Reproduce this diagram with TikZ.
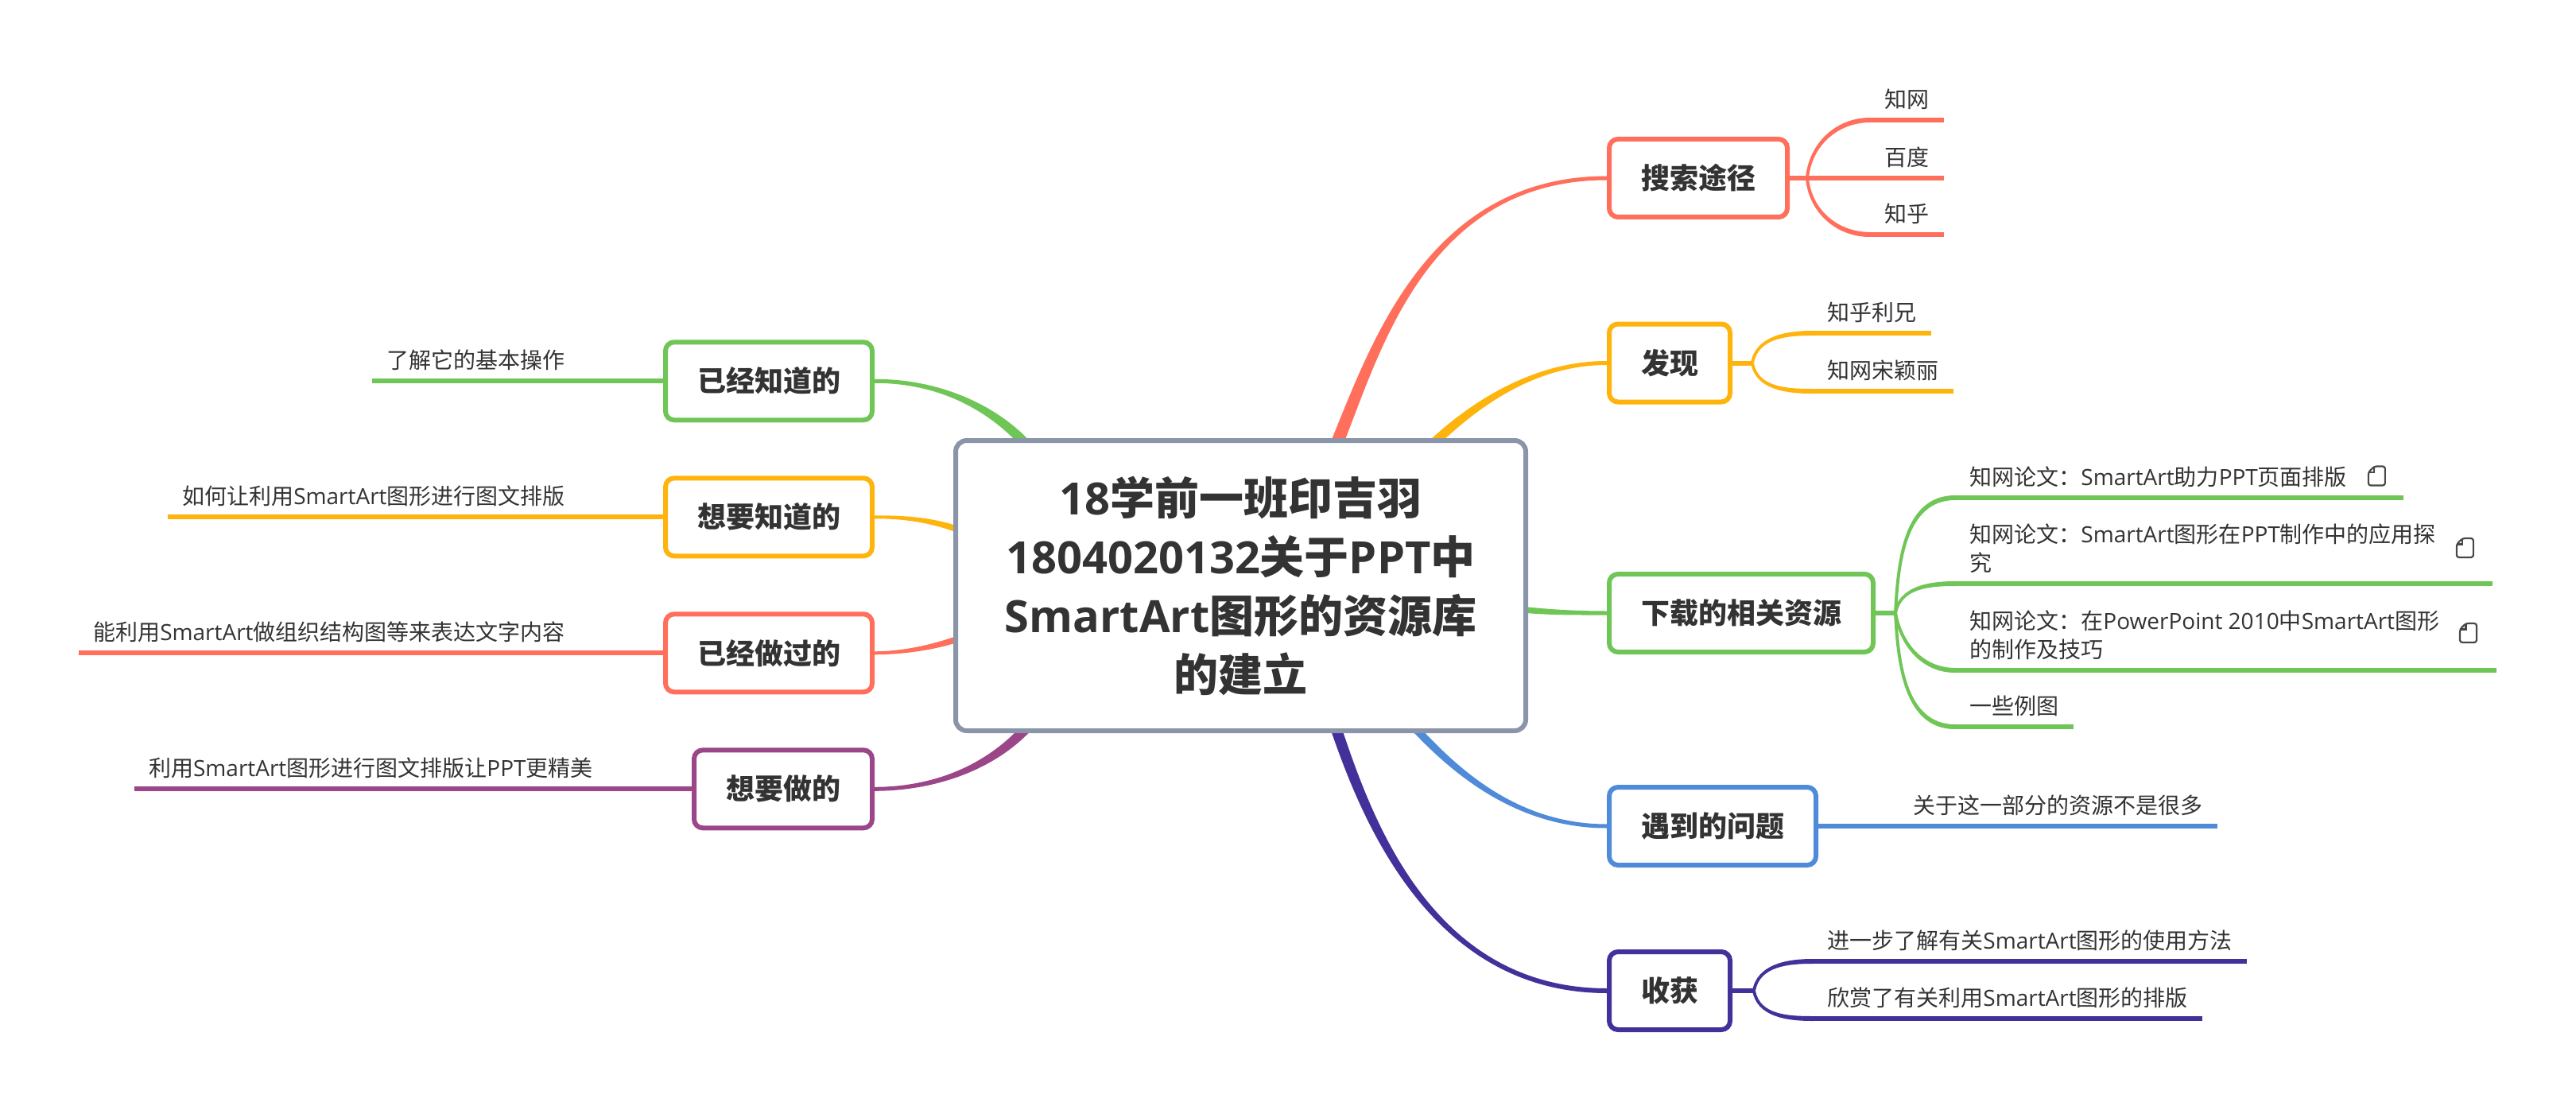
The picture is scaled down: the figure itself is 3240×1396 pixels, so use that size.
\documentclass[tikz,border=0pt]{standalone}
\usepackage{fontspec}
\setmainfont{Noto Sans CJK SC}
\newfontfamily\latfont{Open Sans}
\newcommand\la[1]{{\latfont #1}}
\usepackage{tikz}
\usetikzlibrary{positioning,calc}

\definecolor{coral}{HTML}{FF6F5B}
\definecolor{amber}{HTML}{FFB30D}
\definecolor{leafgreen}{HTML}{6FC657}
\definecolor{skyblue}{HTML}{508BD9}
\definecolor{navy}{HTML}{43309A}
\definecolor{plum}{HTML}{9B4688}
\definecolor{slate}{HTML}{8A95A9}
\definecolor{ink}{HTML}{333333}

% thick tapered limb: colour, start, two controls, end, half width at start, half width at end
\newcommand\limb[7]{
\fill[#1] ($(#2)+(#6)$) .. controls ($(#3)+(#6)$) and ($(#4)+(0,#7)$) .. ($(#5)+(0,#7)$)
-- ($(#5)-(0,#7)$) .. controls ($(#4)-(0,#7)$) and ($(#3)-(#6)$) .. ($(#2)-(#6)$) -- cycle;
}
% thin curve from a junction to a leaf, and the line under the leaf
\newcommand\twig[5]{
\fill[#1] ($(#2)+(-2,0)$) to[out=#4,in=180] ($(#3.south west)+(0,#5)$)
-- ($(#3.south west)-(0,#5)$) to[out=180,in=#4] ($(#2)+(2,0)$) -- cycle;
\draw[#1,wire] (#3.south west) -- (#3.south east);
}

\begin{document}
\begin{tikzpicture}[
  x=0.5pt, y=-0.5pt,
  wire/.style={line width=3pt},
  mainnode/.style={draw=slate,fill=white,line width=3pt,rounded corners=7pt,
    minimum width=358.5pt,minimum height=182.5pt,inner sep=0pt,align=center,
    text=ink,font=\fontsize{28}{37}\selectfont\bfseries},
  topicnode/.style={draw=#1,fill=white,line width=3pt,rounded corners=5.5pt,
    minimum height=49pt,inner xsep=20pt,inner ysep=0pt,
    text=ink,font=\fontsize{18}{22}\selectfont\bfseries},
  leafnode/.style={inner xsep=9pt,inner ysep=5pt,text depth=2.7pt,align=left,
    text=ink,font=\fontsize{14}{18}\selectfont},
  notepic/.pic={
    \draw[ink!90,line width=1.1pt,rounded corners=1.5pt,line join=round]
      (-10.5,-4) -- (-3,-11.5) -- (10.5,-11.5) -- (10.5,12.5) -- (-10.5,12.5) -- cycle;
    \draw[ink!90,line width=1.1pt] (-3,-11.5) -- (-3,-4) -- (-10.5,-4);
  }
    ]
\useasboundingbox (0,0) rectangle (3240,1396);

% right topics
\node[topicnode=coral,anchor=west] (ss) at (2021,224) {搜索途径};
\node[topicnode=amber,anchor=west] (fx) at (2021,456.5) {发现};
\node[topicnode=leafgreen,anchor=west] (xz) at (2021,771) {下载的相关资源};
\node[topicnode=skyblue,anchor=west] (wt) at (2021,1039) {遇到的问题};
\node[topicnode=navy,anchor=west] (sh) at (2021,1246) {收获};
% left topics
\node[topicnode=leafgreen,anchor=east] (yz) at (1100,479.3) {已经知道的};
\node[topicnode=amber,anchor=east] (xy) at (1100,650.3) {想要知道的};
\node[topicnode=coral,anchor=east] (yw) at (1100,821.3) {已经做过的};
\node[topicnode=plum,anchor=east] (xw) at (1100,992.3) {想要做的};

\limb{coral}{1672,580}{1722,468}{1780,224}{ss.west}{7.3,3.3}{2.5}
\limb{amber}{1790,570}{1840,520}{1920,456.5}{fx.west}{4,4.4}{2.5}
\limb{leafgreen}{1900,765}{1940,770}{1980,771}{xz.west}{0.4,4}{2.5}
\limb{skyblue}{1770,905}{1820,960}{1900,1039}{wt.west}{3.4,-3.7}{-2.5}
\limb{navy}{1675,900}{1712,1010}{1790,1246}{sh.west}{6.4,-2.7}{-3}
\limb{leafgreen}{1300,570}{1260,520}{1190,479}{yz.east}{5,-4}{-2.5}
\limb{amber}{1215,670}{1180,655}{1140,650}{xy.east}{1.5,-3.7}{-2}
\limb{coral}{1215,800}{1180,813}{1140,821}{yw.east}{1.5,3.7}{2}
\limb{plum}{1300,905}{1260,955}{1190,992}{xw.east}{5,4}{2.5}

\node[mainnode] (root) at (1560.5,736.5) {\la{18}学前一班印吉羽\\\la{1804020132}关于\la{PPT}中\\\la{SmartArt}图形的资源库\\的建立};

% junctions
\coordinate (ssj) at ($(ss.east)+(22,0)$);
\coordinate (fxj) at ($(fx.east)+(25,0)$);
\coordinate (xzj) at ($(xz.east)+(25,0)$);
\coordinate (shj) at ($(sh.east)+(27,0)$);

% right leaves
\node[leafnode,anchor=south west] (ss1) at (2352,151) {知网};
\node[leafnode,anchor=south west] (ss2) at (2352,224) {百度};
\node[leafnode,anchor=south west] (ss3) at (2352,295) {知乎};
\node[leafnode,anchor=south west] (fx1) at (2280,419) {知乎利兄};
\node[leafnode,anchor=south west] (fx2) at (2280,492) {知网宋颖丽};
\node[leafnode,anchor=south west] (xz1) at (2459,626) {知网论文：\la{SmartArt}助力\la{PPT}页面排版\hspace*{26.5pt}};
\node[leafnode,anchor=south west] (xz2) at (2459,734) {知网论文：\la{SmartArt}图形在\la{PPT}制作中的应用探\hspace*{26.5pt}\\究};
\node[leafnode,anchor=south west] (xz3) at (2459,843) {知网论文：在\la{PowerPoint 2010}中\la{SmartArt}图形\hspace*{26.5pt}\\的制作及技巧};
\node[leafnode,anchor=south west] (xz4) at (2459,914) {一些例图};
\node[leafnode,anchor=south west] (wt1) at ($(wt.east)+(101,0)$) {关于这一部分的资源不是很多};
\node[leafnode,anchor=south west] (sh1) at (2280,1209) {进一步了解有关\la{SmartArt}图形的使用方法};
\node[leafnode,anchor=south west] (sh2) at (2280,1281) {欣赏了有关利用\la{SmartArt}图形的排版};
% left leaves
\node[leafnode,anchor=south east] (yz1) at ($(yz.west)-(105,0)$) {了解它的基本操作};
\node[leafnode,anchor=south east] (xy1) at ($(xy.west)-(105,0)$) {如何让利用\la{SmartArt}图形进行图文排版};
\node[leafnode,anchor=south east] (yw1) at ($(yw.west)-(105,0)$) {能利用\la{SmartArt}做组织结构图等来表达文字内容};
\node[leafnode,anchor=south east] (xw1) at ($(xw.west)-(106,0)$) {利用\la{SmartArt}图形进行图文排版让\la{PPT}更精美};

\pic at ($(xz1.south east)+(-34,-28)$) {notepic};
\pic at ($(xz2.south east)+(-35,-45.5)$) {notepic};
\pic at ($(xz3.south east)+(-35,-47.5)$) {notepic};

\draw[coral,wire] (ss.east) -- (ssj);
\draw[coral,wire] (ssj) -- (ss2.south east);
\draw[amber,wire] (fx.east) -- (fxj);
\draw[leafgreen,wire] (xz.east) -- (xzj);
\draw[skyblue,wire] (wt.east) -- (wt1.south east);
\draw[navy,wire] (sh.east) -- (shj);
\draw[leafgreen,wire] (yz.west) -- (yz1.south west);
\draw[amber,wire] (xy.west) -- (xy1.south west);
\draw[coral,wire] (yw.west) -- (yw1.south west);
\draw[plum,wire] (xw.west) -- (xw1.south west);

\twig{coral}{ssj}{ss1}{85}{-3}
\twig{coral}{ssj}{ss3}{-85}{3}
\twig{amber}{fxj}{fx1}{80}{-3}
\twig{amber}{fxj}{fx2}{-80}{3}
\twig{leafgreen}{xzj}{xz1}{87}{-3}
\twig{leafgreen}{xzj}{xz2}{80}{-3}
\twig{leafgreen}{xzj}{xz3}{-80}{3}
\twig{leafgreen}{xzj}{xz4}{-87}{3}
\twig{navy}{shj}{sh1}{80}{-3}
\twig{navy}{shj}{sh2}{-80}{3}
\end{tikzpicture}
\end{document}
